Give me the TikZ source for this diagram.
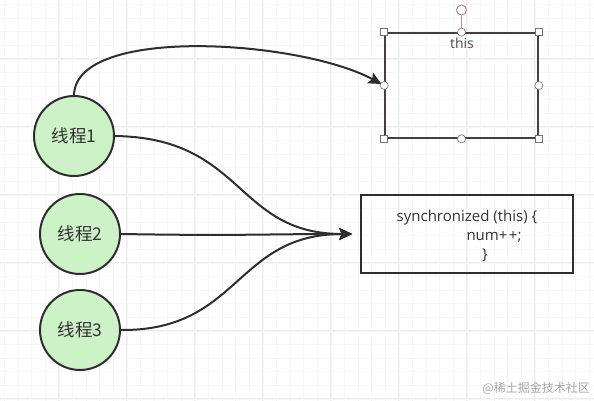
\documentclass[tikz,border=0pt]{standalone}
\usepackage{fontspec}
\setmainfont{Open Sans}
\newfontfamily\cjk{Noto Sans CJK SC}
\usetikzlibrary{arrows.meta}
\definecolor{gridmajor}{HTML}{ECECEC}
\definecolor{gridminor}{HTML}{F6F6F6}
\definecolor{threadfill}{HTML}{CDF2C8}
\definecolor{edgecol}{HTML}{2E2E2E}
\definecolor{selcol}{HTML}{4A3C42}
\definecolor{rotcol}{HTML}{B88A96}
\tikzset{
  thread/.style={circle, draw=edgecol, line width=2pt, fill=threadfill, minimum size=80pt, inner sep=0pt, font=\cjk\fontsize{17.5}{19}\selectfont, text=black!80},
  conn/.style={draw=edgecol, line width=2pt, -{Stealth[length=13pt,width=12pt,inset=2.5pt]}},
  handlesq/.style={draw=black!55, fill=white, line width=0.6pt, minimum size=7pt, inner sep=0pt, rectangle},
  handlecirc/.style={draw=black!55, fill=white, line width=0.6pt, minimum size=8pt, inner sep=0pt, circle},
  codetext/.style={font=\fontsize{15}{17}\selectfont, text=black!80, inner sep=0pt}
}
\begin{document}
\begin{tikzpicture}[x=1pt,y=-1pt]
\useasboundingbox (0,0) rectangle (594,401);
\fill[white] (0,0) rectangle (594,401);
% grid
\foreach \i in {0,...,44} {
  \draw[gridminor, line width=0.5pt] ({4.4+13.6*\i},0) -- ({4.4+13.6*\i},401);
}
\foreach \i in {0,...,30} {
  \draw[gridminor, line width=0.5pt] (0,{4.4+13.6*\i}) -- (594,{4.4+13.6*\i});
}
\foreach \x in {58,126,194,262,330,398,466,534} {
  \draw[gridmajor, line width=0.8pt] (\x,0) -- (\x,401);
}
\foreach \y in {58,126,194,262,330,398} {
  \draw[gridmajor, line width=0.8pt] (0,\y) -- (594,\y);
}
% threads
\node[thread] (t1) at (74,136) {线程1};
\node[thread] (t2) at (80,234) {线程2};
\node[thread] (t3) at (80,330) {线程3};
% this box
\node[draw=selcol, line width=1.6pt, minimum width=153pt, minimum height=105pt, inner sep=0pt, rectangle] (thisbox) at (461.5,85.5) {};
\node[font=\fontsize{14}{16}\selectfont, text=black!70, inner sep=0pt] (thislabel) at (462,43) {this};
% sync box
\node[draw=edgecol, line width=1.6pt, minimum width=212pt, minimum height=78pt, inner sep=0pt, rectangle] (sync) at (467,234) {};
\node[codetext] (l1) at (467,218) {synchronized (this) \{};
\node[codetext] (l2) at (494,237) {num+\kern1.5pt+;};
\node[codetext] (l3) at (485,255) {\}};
% connectors
\draw[conn, shorten >=3pt] (t1.north) .. controls (76,25) and (300,40) .. (thisbox.west);
\draw[conn, shorten >=8pt] (t1.east) .. controls (245,138) and (235,234) .. (sync.west);
\draw[conn, shorten >=8pt] (t2.east) .. controls (240,236) and (260,234) .. (sync.west);
\draw[conn, shorten >=8pt] (t3.east) .. controls (240,331) and (235,234) .. (sync.west);
% selection handles
\coordinate (rot) at (461.5,10);
\draw[rotcol, line width=1.2pt] (thisbox.north) -- (rot);
\node[circle, draw=rotcol, fill=white, line width=1pt, minimum size=10pt, inner sep=0pt] (roth) at (rot) {};
\node[handlesq] (hnw) at (thisbox.north west) {};
\node[handlesq] (hne) at (thisbox.north east) {};
\node[handlesq] (hsw) at (thisbox.south west) {};
\node[handlesq] (hse) at (thisbox.south east) {};
\node[handlecirc] (hn) at (thisbox.north) {};
\node[handlecirc] (hs) at (thisbox.south) {};
\node[handlecirc] (hw) at (thisbox.west) {};
\node[handlecirc] (he) at (thisbox.east) {};
% watermark
\node[font=\cjk\fontsize{12}{14}\selectfont, text=black!35, anchor=east, inner sep=0pt] (wm) at (590,388) {@稀土掘金技术社区};
\end{tikzpicture}
\end{document}
